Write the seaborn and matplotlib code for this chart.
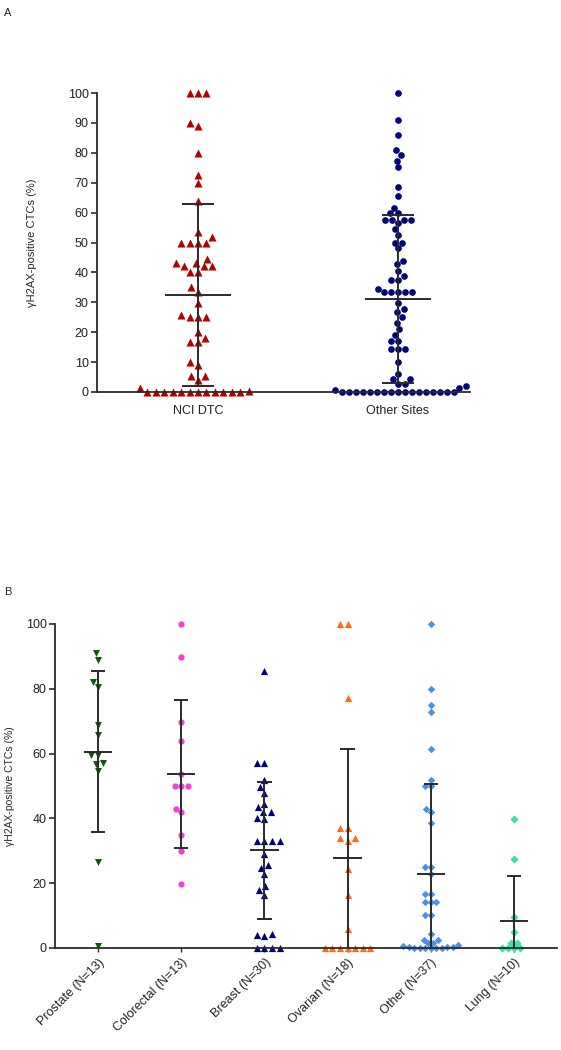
import numpy as np
import pandas as pd
import matplotlib
matplotlib.use("Agg")
import matplotlib.pyplot as plt
import seaborn as sns
import warnings
warnings.filterwarnings("ignore")

# ---------------- Data ----------------
# Panel A
cats_a = ["NCI DTC", "Other Sites"]
nci_dtc = [100, 100, 100, 90, 89, 80, 72.7, 70, 64, 53.6, 52, 50, 50, 50, 50, 44.5,
           43, 43, 42, 42, 42, 40, 40, 35, 33.5, 29.7, 25.8, 25, 25, 25, 20, 18.2,
           16.6, 16.6, 9.9, 8.9, 5.2, 5.2, 3.9, 0.4, 0, 0, 0, 0, 0, 0, 0, 0, 0, 0,
           0, 0, 1.2]
other_sites = [100, 90.9, 85.9, 80.9, 79.2, 77.3, 75.1, 68.4, 65.4, 61.6, 59.7, 59.7,
               57.5, 57.5, 57.5, 57.5, 56.6, 54.5, 52.5, 50, 50, 48, 43.8, 42.7, 40.5,
               38.8, 37.5, 37.5, 34.4, 33.5, 33.5, 33.5, 33.5, 33.5, 29.7, 27.8, 26.8,
               25, 23.2, 21, 19.1, 17.1, 17.1, 14.3, 14.3, 14.3, 10.2, 6.1, 4.4, 4.4,
               2.8, 1.9, 0.8, 0, 0, 0, 0, 0, 0, 0, 0, 0, 0, 0, 0, 0, 0, 0, 0, 0,
               1.5, 2.8]
mean_a = [32.4, 31.1]
sd_a = [30.4, 28.1]

# Panel B
cats_b = ["Prostate (N=13)", "Colorectal (N=13)", "Breast (N=30)",
          "Ovarian (N=18)", "Other (N=37)", "Lung (N=10)"]
prostate = [91.0, 89.0, 82.0, 80.5, 68.7, 65.7, 59.6, 59.6, 57.2, 56.7, 54.7, 26.6, 0.5]
colorectal = [100, 89.9, 69.9, 63.9, 53.7, 50, 50, 50, 42.9, 41.9, 34.8, 29.9, 19.8]
breast = [85.6, 57, 57, 51.9, 49.6, 47.7, 44.4, 43.4, 41.9, 41.9, 39.7, 40.2,
          33.1, 33.1, 33.1, 33.1, 29, 25.5, 24.7, 22.7, 19.1, 17.8, 16.3,
          4.4, 4.1, 3.6, 0, 0, 0, 0]
ovarian = [100, 100, 77.1, 37.1, 37.1, 33.8, 33.8, 33, 24.5, 16.3, 5.8,
           0, 0, 0, 0, 0, 0, 0]
other = [100, 79.9, 74.9, 72.7, 61.3, 51.9, 50, 50, 42.8, 42, 38.7, 25.1, 25.1,
         22.8, 16.8, 16.8, 14.1, 14.1, 14.1, 10.2, 10.2, 4.2,
         2.6, 1.6, 0.9, 0.4, 0.2, 0, 0, 0, 0, 0, 0, 0.3, 0.7, 1.4, 2.6]
lung = [39.9, 27.6, 9.6, 4.8, 1.6, 1.6, 0, 0, 0, 0]
mean_b = [60.6, 53.7, 30.2, 27.8, 22.7, 8.4]
sd_b = [24.9, 22.8, 21.1, 33.5, 27.8, 13.9]

ylabel = "\u03b3H2AX-positive CTCs (%)"

# ---------------- Style ----------------
sns.set_theme(style="ticks")
plt.rcParams["font.family"] = ["Liberation Sans", "DejaVu Sans"]

fig = plt.figure(figsize=(5.61, 10.5), dpi=100)
W, H = 561.0, 1050.0
axA = fig.add_axes([97 / W, 1 - 392 / H, (470 - 97) / W, (392 - 93) / H])
axB = fig.add_axes([55 / W, 1 - 948 / H, (557 - 55) / W, (948 - 624) / H])

line_col = "#2a2a2a"

def draw_group(ax, cat, vals, order, color, marker, size):
    sns.swarmplot(x=[cat] * len(vals), y=vals, order=order, color=color,
                  marker=marker, size=size, linewidth=0, ax=ax, clip_on=False,
                  zorder=2)

def draw_stats(ax, means, sds, mhalf, chalf, lw):
    for i, (m, s) in enumerate(zip(means, sds)):
        lo, hi = m - s, m + s
        ax.vlines(i, lo, hi, color=line_col, lw=lw, zorder=4)
        ax.hlines(m, i - mhalf, i + mhalf, color=line_col, lw=lw, zorder=4)
        ax.hlines([lo, hi], i - chalf, i + chalf, color=line_col, lw=lw, zorder=4)

# ---------------- Panel A ----------------
draw_group(axA, cats_a[0], nci_dtc, cats_a, "#b00000", "^", 5.8)
draw_group(axA, cats_a[1], other_sites, cats_a, "#00007a", "o", 4.8)
draw_stats(axA, mean_a, sd_a, 0.165, 0.08, 1.4)
axA.set_xlim(-0.505, 1.36)
axA.set_ylim(0, 100)
axA.set_yticks(np.arange(0, 101, 10))
axA.set_ylabel(ylabel, fontsize=8, labelpad=6)
axA.yaxis.set_label_coords(-0.16, 0.5)
axA.set_xlabel("")
axA.tick_params(axis="y", labelsize=9, length=4, width=1.2, color=line_col,
                labelcolor="#222222", pad=2)
axA.tick_params(axis="x", labelsize=9, length=0, labelcolor="#222222", pad=9)

# ---------------- Panel B ----------------
specs = [(prostate, "#0a5a0a", "v", 5.0),
         (colorectal, "#f040d8", "o", 4.5),
         (breast, "#00007a", "^", 5.2),
         (ovarian, "#ff6a12", "^", 5.2),
         (other, "#4a8fe8", "D", 3.8),
         (lung, "#3de0a8", "D", 4.2)]
for cat, (vals, col, mk, sz) in zip(cats_b, specs):
    draw_group(axB, cat, vals, cats_b, col, mk, sz)
draw_stats(axB, mean_b, sd_b, 0.17, 0.085, 1.4)
axB.set_xlim(-0.52, 5.52)
axB.set_ylim(0, 100)
axB.set_yticks(np.arange(0, 101, 20))
axB.set_ylabel(ylabel, fontsize=7.5)
axB.yaxis.set_label_coords(-0.08, 0.5)
axB.set_xlabel("")
axB.tick_params(axis="y", labelsize=9, length=4, width=1.2, color=line_col,
                labelcolor="#222222", pad=2)
axB.tick_params(axis="x", labelsize=9, length=3, width=1.0, color=line_col,
                labelcolor="#222222", pad=3)
for lab in axB.get_xticklabels():
    lab.set_rotation(45)
    lab.set_ha("right")
    lab.set_rotation_mode("anchor")

for ax in (axA, axB):
    sns.despine(ax=ax)
    for sp in ("left", "bottom"):
        ax.spines[sp].set_linewidth(1.3)
        ax.spines[sp].set_color(line_col)

fig.text(4 / W, 1 - 13 / H, "A", fontsize=8, ha="left", va="center", color="#222222")
fig.text(4 / W, 1 - 592 / H, "B", fontsize=8, ha="left", va="center", color="#222222")

fig.savefig("out.png", dpi=100)
